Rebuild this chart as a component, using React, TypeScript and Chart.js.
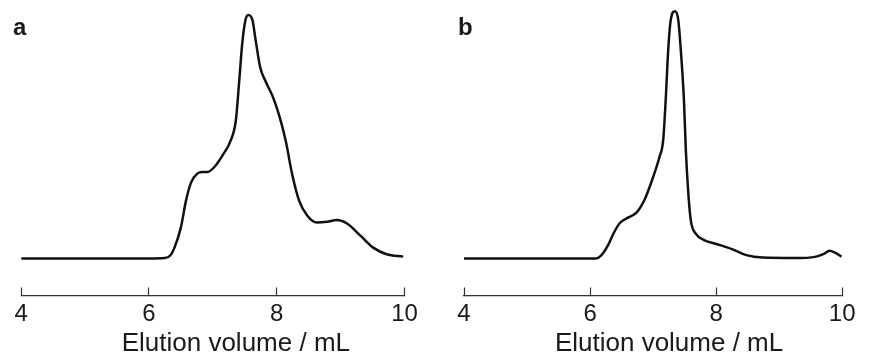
import React, { useEffect, useRef } from "react";
import { Chart, registerables } from "chart.js";

Chart.register(...registerables);

// ---- data ----
const xTicks = [4, 6, 8, 10];
const axisTitle = "Elution volume / mL";

const volumeA = [4, 5, 6, 6.25, 6.34, 6.4, 6.5, 6.58, 6.66, 6.76, 6.84, 6.92, 7.02, 7.15, 7.28, 7.36, 7.41, 7.46, 7.51, 7.556, 7.62, 7.67, 7.74, 7.83, 7.93, 8.03, 8.14, 8.24, 8.35, 8.48, 8.63, 8.79, 8.94, 9.1, 9.31, 9.51, 9.72, 9.98];
const signalA = [0, 0, 0, 0.2, 1.5, 4.5, 12.8, 23.8, 31.3, 35.0, 35.6, 35.6, 37.5, 42.3, 48.5, 56.7, 71.9, 88.3, 97.9, 100, 97.9, 89.7, 78.7, 72.5, 67.0, 59.5, 48.5, 34.8, 23.8, 17.6, 14.8, 15.1, 15.8, 14.4, 9.4, 4.5, 1.8, 0.8];

const volumeB = [4, 5, 6, 6.09, 6.17, 6.28, 6.38, 6.48, 6.61, 6.74, 6.87, 7.0, 7.1, 7.16, 7.2, 7.24, 7.28, 7.35, 7.4, 7.44, 7.49, 7.52, 7.56, 7.6, 7.68, 7.81, 8.02, 8.25, 8.48, 8.74, 9.26, 9.57, 9.7, 9.8, 9.88, 9.99];
const signalB = [0, 0, 0, 0, 1.1, 5.2, 10.7, 14.8, 16.9, 19.0, 24.5, 33.4, 41.6, 48.5, 65.0, 85.6, 97.9, 101.6, 97.9, 85.6, 65.0, 44.4, 26.5, 15.5, 10.1, 7.6, 5.9, 3.9, 1.4, 0.4, 0.2, 0.7, 1.8, 3.2, 2.5, 0.8];

const panelLabels = ["a", "b"];

const FONT = '"Liberation Sans", Arial, Helvetica, sans-serif';
const INK = "#1a1a1a";

type PanelProps = {
  vols: number[];
  sig: number[];
  label: string;
  left: number;
  padL: number;
  padR: number;
  labelX: number;
  titleShift: number;
};

function Panel({ vols, sig, label, left, padL, padR, labelX, titleShift }: PanelProps) {
  const ref = useRef<HTMLCanvasElement | null>(null);
  useEffect(() => {
    if (!ref.current) return;
    const textPlugin = {
      id: "panelText",
      afterDraw(chart: any) {
        const { ctx, chartArea } = chart;
        ctx.save();
        ctx.fillStyle = INK;
        ctx.textBaseline = "alphabetic";
        ctx.font = `bold 24px ${FONT}`;
        ctx.textAlign = "left";
        ctx.fillText(label, labelX, 35);
        ctx.font = `26px ${FONT}`;
        ctx.textAlign = "center";
        ctx.fillText(axisTitle, (chartArea.left + chartArea.right) / 2 + titleShift, 351);
        ctx.restore();
      },
    };
    const chart = new Chart(ref.current, {
      type: "line",
      data: {
        datasets: [
          {
            data: vols.map((v, i) => ({ x: v, y: sig[i] })),
            borderColor: "#111",
            borderWidth: 2.5,
            pointRadius: 0,
            cubicInterpolationMode: "monotone",
            fill: false,
          },
        ],
      },
      options: {
        responsive: false,
        animation: false,
        devicePixelRatio: 1,
        layout: { padding: { left: padL, right: padR, top: 5, bottom: 15.5 } },
        plugins: {
          legend: { display: false },
          tooltip: { enabled: false },
          title: { display: false },
        },
        scales: {
          x: {
            type: "linear",
            min: 4,
            max: 10,
            afterBuildTicks: (s: any) => {
              s.ticks = xTicks.map((v) => ({ value: v }));
            },
            border: { display: true, color: "#333", width: 1.2 },
            grid: {
              drawOnChartArea: false,
              drawTicks: true,
              tickLength: -8,
              tickColor: "#333",
              tickWidth: 1.2,
            },
            ticks: {
              padding: 14.5,
              color: INK,
              font: { family: FONT, size: 24, lineHeight: 1 },
              maxRotation: 0,
              autoSkip: false,
            },
          },
          y: { display: false, min: -15.16, max: 104.12 },
        },
      },
      plugins: [textPlugin],
    } as any);
    return () => chart.destroy();
  }, []);
  return (
    <canvas
      ref={ref}
      width={435}
      height={356}
      style={{ position: "absolute", left, top: 0, width: 435, height: 356 }}
    />
  );
}

export default function App() {
  return (
    <div style={{ position: "absolute", left: 0, top: 0, width: 870, height: 356, background: "#fff" }}>
      <Panel vols={volumeA} sig={signalA} label={panelLabels[0]} left={0} padL={19.5} padR={30.5} labelX={13} titleShift={23} />
      <Panel vols={volumeB} sig={signalB} label={panelLabels[1]} left={435} padL={29} padR={21} labelX={23} titleShift={16} />
    </div>
  );
}
